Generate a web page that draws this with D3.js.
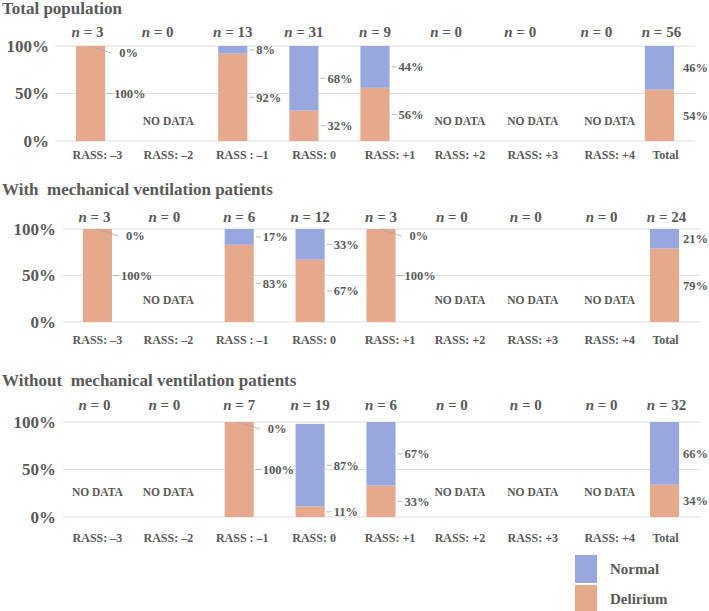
<!DOCTYPE html>
<html>
<head>
<meta charset="utf-8">
<script src="https://cdn.jsdelivr.net/npm/d3@7"></script>
<style>
  body { margin: 0; background: #fff; }
  svg text { font-family: "Liberation Serif", "Times New Roman", serif; font-weight: bold; fill: #595959; }
</style>
</head>
<body>
<svg id="chart" width="709" height="611"></svg>
<script>
// Categories on the x axis (same for every panel)
const categories = ["RASS: \u20133", "RASS: \u20132", "RASS : \u20131", "RASS: 0", "RASS: +1", "RASS: +2", "RASS: +3", "RASS: +4", "Total"];

// Panel titles
const panelTitles = ["Total population", "With  mechanical ventilation patients", "Without  mechanical ventilation patients"];

// Number of patients per category, one list per panel
const nTotal = [3, 0, 13, 31, 9, 0, 0, 0, 56];
const nVent = [3, 0, 6, 12, 3, 0, 0, 0, 24];
const nNoVent = [0, 0, 7, 19, 6, 0, 0, 0, 32];

// Percentages (null = no data)
const deliriumTotal = [100, null, 92, 32, 56, null, null, null, 54];
const normalTotal = [0, null, 8, 68, 44, null, null, null, 46];
const deliriumVent = [100, null, 83, 67, 100, null, null, null, 79];
const normalVent = [0, null, 17, 33, 0, null, null, null, 21];
const deliriumNoVent = [null, null, 100, 11, 33, null, null, null, 34];
const normalNoVent = [null, null, 0, 87, 67, null, null, null, 66];

const yTicks = [0, 50, 100];
const seriesNames = ["Normal", "Delirium"];
const colors = { Normal: "#98a8de", Delirium: "#e6a98b" };

const panels = [
  { title: panelTitles[0], n: nTotal, delirium: deliriumTotal, normal: normalTotal },
  { title: panelTitles[1], n: nVent, delirium: deliriumVent, normal: normalVent },
  { title: panelTitles[2], n: nNoVent, delirium: deliriumNoVent, normal: normalNoVent }
];

// layout of each panel (plot range and text rows)
const layout = [
  { x0: 55, x1: 695, top: 46, h: 95, title: 14, n: 32, cat: 155, nodata: 121 },
  { x0: 62, x1: 700, top: 229, h: 93, title: 195, n: 217, cat: 340, nodata: 300 },
  { x0: 62, x1: 700, top: 422, h: 95, title: 386, n: 405, cat: 538, nodata: 492 }
];
// text boxes in the original were nudged by hand
const nShift = [-3, -4, 0, 0, 0, 0, 3, 8, 2];
const catShift = [0, 0, 3, 4, 9, 8, 10, 16, 1];

const svg = d3.select("#chart");

// category labels sit at the same place in every panel
const xLab = d3.scaleBand()
  .domain(categories)
  .range([62, 700])
  .paddingInner(0.59)
  .paddingOuter(0.295);

panels.forEach(function(p, pi) {
  const L = layout[pi];
  const g = svg.append("g");
  const x = d3.scaleBand()
    .domain(categories)
    .range([L.x0, L.x1])
    .paddingInner(0.59)
    .paddingOuter(0.295);
  const y = d3.scaleLinear().domain([0, 100]).range([L.top + L.h, L.top]);

  // title
  g.append("text")
    .attr("x", 2).attr("y", L.title)
    .attr("font-size", 17)
    .style("white-space", "pre")
    .text(p.title);

  // gridlines
  g.selectAll(".grid").data(yTicks).enter().append("line")
    .attr("x1", L.x0).attr("x2", L.x1)
    .attr("y1", d => y(d)).attr("y2", d => y(d))
    .attr("stroke", "#dedede").attr("stroke-width", 1);

  // y axis
  const yAxis = g.append("g")
    .attr("transform", "translate(" + L.x0 + ",0)")
    .call(d3.axisLeft(y).tickValues(yTicks).tickSize(0).tickPadding(6).tickFormat(d => d + "%"));
  yAxis.select(".domain").remove();
  yAxis.selectAll("text").attr("font-size", 17).attr("font-family", null).attr("fill", null);

  // n labels
  g.selectAll(".n").data(categories).enter().append("text")
    .attr("x", (d, i) => x(d) + x.bandwidth() / 2 + nShift[i])
    .attr("y", L.n).attr("dy", "0.35em")
    .attr("text-anchor", "middle")
    .attr("font-size", 15)
    .style("white-space", "pre")
    .each(function(d, i) {
      const t = d3.select(this);
      t.append("tspan").attr("font-style", "italic").text("n");
      t.append("tspan").text(" = " + p.n[i]);
    });

  // category labels
  g.selectAll(".cat").data(categories).enter().append("text")
    .attr("x", (d, i) => xLab(d) + xLab.bandwidth() / 2 + catShift[i])
    .attr("y", L.cat).attr("dy", "0.35em")
    .attr("text-anchor", "middle")
    .attr("font-size", 12)
    .style("white-space", "pre")
    .text(d => d);

  categories.forEach(function(c, i) {
    const bx = x(c), bw = x.bandwidth();
    const del = p.delirium[i], nor = p.normal[i];
    if (del === null) {
      g.append("text")
        .attr("x", xLab(c) + xLab.bandwidth() / 2 + catShift[i])
        .attr("y", L.nodata).attr("dy", "0.35em")
        .attr("text-anchor", "middle").attr("font-size", 11.5)
        .text("NO DATA");
      return;
    }
    // stacked bars
    g.append("rect")
      .attr("x", bx).attr("width", bw)
      .attr("y", y(del)).attr("height", y(0) - y(del))
      .attr("fill", colors.Delirium);
    g.append("rect")
      .attr("x", bx).attr("width", bw)
      .attr("y", y(del + nor)).attr("height", y(del) - y(del + nor))
      .attr("fill", colors.Normal);

    const isTotal = c === "Total";
    // keep the total labels inside the page
    const lx = Math.min(bx + bw + 9, 683);
    const labels = [
      { v: del, yc: y(del / 2) },
      { v: nor, yc: nor === 0 ? y(del) + 7 : y(del + nor / 2) }
    ];
    labels.forEach(function(lb) {
      if (!isTotal) {
        if (lb.v === 0) {
          g.append("line")
            .attr("x1", bx + bw / 2).attr("y1", y(del))
            .attr("x2", bx + bw + 6).attr("y2", lb.yc)
            .attr("stroke", "#a6a6a6").attr("stroke-width", 0.8);
        } else {
          g.append("line")
            .attr("x1", bx + bw + 2).attr("x2", bx + bw + 7)
            .attr("y1", lb.yc).attr("y2", lb.yc)
            .attr("stroke", "#a6a6a6").attr("stroke-width", 0.8);
        }
      }
      g.append("text")
        .attr("x", lb.v === 0 ? lx + 5 : lx).attr("y", lb.yc).attr("dy", "0.35em")
        .attr("font-size", 12.5)
        .text(lb.v + "%");
    });
  });
});

// legend
const legend = svg.append("g");
seriesNames.forEach(function(s, i) {
  legend.append("rect")
    .attr("x", 575).attr("y", 555 + i * 30)
    .attr("width", 22).attr("height", 28)
    .attr("fill", colors[s]);
  legend.append("text")
    .attr("x", 610).attr("y", 569 + i * 30).attr("dy", "0.35em")
    .attr("font-size", 15)
    .text(s);
});
</script>
</body>
</html>
